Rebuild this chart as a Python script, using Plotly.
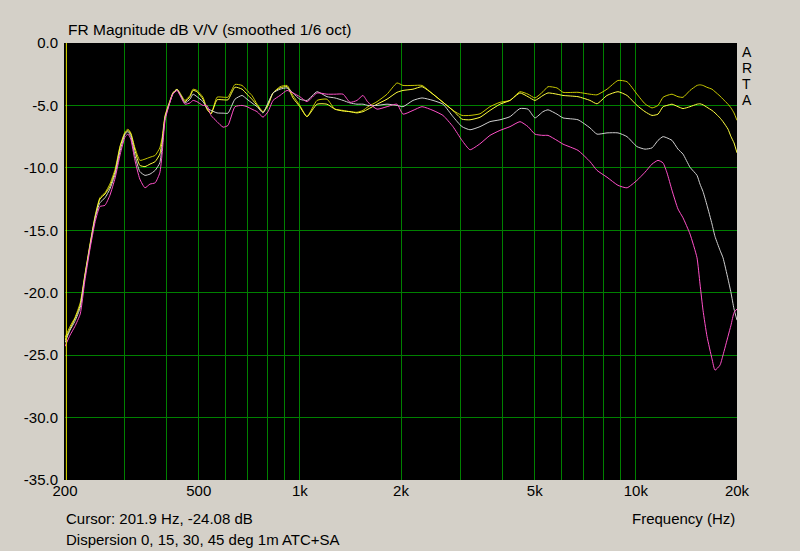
import plotly.graph_objects as go

# Frequency points (Hz)
freq = [200, 207, 214, 222, 229, 237, 246, 254, 263, 272, 282, 292, 302, 308, 314, 323,
        334, 346, 358, 371, 383, 389, 397, 411, 419, 431, 440, 455, 471, 481, 494, 515,
        529, 544, 567, 591, 611, 641, 673, 696, 720, 746, 777, 804, 832, 873, 916, 954,
        1000, 1050, 1125, 1204, 1272, 1345, 1410, 1479, 1541, 1595, 1697, 1817, 1946, 2028,
        2171, 2310, 2491, 2667, 2856, 3038, 3209, 3437, 3680, 3941, 4221, 4521, 4776, 5009,
        5292, 5477, 5825, 6070, 6727, 7303, 7662, 8206, 8848, 9411, 10079, 10647, 11170,
        11639, 12045, 12380, 12811, 13349, 13814, 14493, 15205, 15521, 15844, 16284, 16851,
        17201, 17801, 18170, 18804, 19194, 19593, 20000]

deg0 = [-23.6, -22.7, -22.0, -20.8, -18.6, -16.2, -13.8, -12.4, -12.0, -11.3, -10.1, -8.2, -7.1, -6.9, -7.2, -8.4,
        -9.4, -9.3, -9.15, -9.0, -8.4, -7.6, -5.8, -4.6, -4.0, -3.7, -4.0, -4.6, -4.2, -3.7, -3.8, -4.35,
        -5.27, -5.67, -4.34, -4.34, -4.34, -3.32, -3.4, -3.8, -4.2, -4.9, -5.5, -4.9, -4.0, -3.5, -3.4, -4.2,
        -5.0, -5.9, -4.6, -4.5, -5.3, -5.4, -5.5, -5.55, -5.4, -5.1, -4.7, -4.1, -3.2, -3.4,
        -3.4, -3.4, -4.1, -4.75, -5.4, -5.8, -5.8, -5.67, -5.1, -4.75, -4.6, -3.9, -4.1, -4.4,
        -3.9, -3.5, -3.6, -3.95, -3.95, -4.1, -4.15, -3.7, -3.0, -3.1, -4.1, -4.87, -5.2,
        -5.0, -4.35, -4.2, -4.1, -4.3, -4.35, -3.8, -3.4, -3.35, -3.4, -3.55, -3.7,
        -3.9, -4.25, -4.5, -4.9, -5.2, -5.6, -6.2]

deg15 = [-23.8, -22.9, -22.1, -21.0, -18.7, -16.3, -13.9, -12.5, -12.1, -11.5, -10.3, -8.3, -7.2, -7.0, -7.3, -8.6,
         -9.8, -9.9, -9.7, -9.5, -8.9, -7.9, -5.9, -4.6, -4.0, -3.7, -4.1, -4.7, -4.3, -3.8, -3.9, -4.5,
         -5.3, -5.67, -4.55, -4.55, -4.55, -3.54, -3.7, -4.1, -4.5, -5.0, -5.55, -5.0, -4.0, -3.6, -3.5, -4.4,
         -5.1, -5.9, -4.9, -4.9, -5.3, -5.45, -5.5, -5.6, -5.5, -5.3, -4.9, -4.5, -3.95, -3.8,
         -3.7, -3.5, -4.1, -4.75, -5.4, -6.1, -6.15, -5.95, -5.4, -4.9, -4.6, -4.0, -4.3, -4.6,
         -4.2, -4.0, -4.1, -4.2, -4.3, -4.6, -4.87, -4.2, -3.9, -4.2, -5.0, -5.5, -5.8,
         -5.7, -5.1, -5.0, -4.9, -5.1, -5.25, -5.1, -4.9, -4.87, -4.95, -5.15, -5.4,
         -5.6, -6.0, -6.3, -6.9, -7.5, -8.0, -8.8]

deg30 = [-24.0, -23.0, -22.3, -21.2, -18.8, -16.4, -14.0, -12.8, -12.4, -11.7, -10.5, -8.6, -7.3, -7.1, -7.5, -9.0,
         -10.3, -10.6, -10.5, -10.2, -9.6, -8.3, -6.0, -4.7, -4.05, -3.75, -4.1, -4.8, -4.5, -4.1, -4.3, -4.7,
         -5.2, -5.4, -5.6, -5.62, -5.62, -4.5, -4.2, -4.5, -4.8, -5.1, -5.6, -4.8, -4.0, -3.7, -3.6, -4.0,
         -4.5, -4.6, -3.9, -4.3, -4.4, -4.6, -4.8, -4.9, -4.9, -5.0, -5.0, -4.9, -5.0, -5.1,
         -4.6, -4.4, -4.6, -4.9, -5.9, -6.7, -6.95, -6.7, -6.3, -6.15, -5.9, -5.25, -5.3, -6.0,
         -5.5, -5.35, -5.7, -6.0, -6.15, -6.8, -7.3, -7.2, -7.2, -7.5, -8.3, -8.5, -8.4,
         -7.8, -7.5, -7.6, -7.8, -8.5, -8.9, -9.95, -10.6, -11.3, -11.9, -13.0, -14.5,
         -15.5, -16.6, -17.2, -18.9, -20.0, -21.3, -22.2]

deg45 = [-24.3, -23.4, -22.7, -21.7, -19.1, -16.6, -14.3, -13.1, -13.0, -12.2, -10.8, -8.9, -7.5, -7.3, -7.7, -9.4,
         -10.9, -11.6, -11.3, -11.2, -10.4, -8.9, -6.2, -4.7, -4.1, -3.8, -4.2, -4.9, -4.8, -4.6, -4.7, -5.0,
         -5.0, -5.8, -6.3, -6.74, -6.6, -5.1, -5.0, -5.1, -5.3, -5.5, -5.94, -5.5, -4.6, -4.2, -3.8, -4.0,
         -4.3, -4.7, -4.0, -4.1, -4.1, -4.1, -4.75, -4.6, -4.2, -4.75, -5.3, -5.1, -4.9, -5.7,
         -5.4, -5.1, -5.4, -5.8, -6.7, -7.8, -8.55, -8.07, -7.4, -7.0, -6.7, -6.3, -6.7, -7.3,
         -7.4, -7.4, -7.8, -8.1, -8.6, -9.5, -10.2, -10.75, -11.4, -11.6, -11.0, -10.35, -9.7,
         -9.4, -9.6, -10.4, -11.8, -13.3, -14.0, -15.3, -17.2, -19.3, -21.4, -23.5, -25.3,
         -26.2, -25.8, -25.0, -23.5, -22.6, -21.6, -21.3]

series_names = ["0 deg", "15 deg", "30 deg", "45 deg"]
series_colors = ["#c8c800", "#ffff40", "#d0d0d0", "#ff50c8"]

x_tickvals = [200, 300, 400, 500, 600, 700, 800, 900, 1000, 2000, 3000, 4000, 5000,
              6000, 7000, 8000, 9000, 10000, 20000]
x_ticktext = ["200", "", "", "500", "", "", "", "", "1k", "2k", "", "", "5k",
              "", "", "", "", "10k", "20k"]
y_tickvals = [0, -5, -10, -15, -20, -25, -30, -35]
y_ticktext = ["0.0", "-5.0", "-10.0", "-15.0", "-20.0", "-25.0", "-30.0", "-35.0"]

cursor_freq = 201.9
cursor_db = -24.08

FONT = "Liberation Sans, Arial, sans-serif"

fig = go.Figure()
for name, col, vals in zip(series_names, series_colors, [deg0, deg15, deg30, deg45]):
    fig.add_trace(go.Scatter(x=freq, y=vals, mode="lines", name=name,
                             line=dict(color=col, width=1, shape="spline", smoothing=0.5),
                             showlegend=False, hoverinfo="skip"))

fig.add_shape(type="line", xref="x", yref="paper", x0=cursor_freq, x1=cursor_freq,
              y0=0, y1=1, line=dict(color="#e8e800", width=1))

fig.update_layout(
    width=800, height=551,
    margin=dict(l=65, r=63, t=43, b=71),
    paper_bgcolor="#d4d0c8", plot_bgcolor="#000000",
    font=dict(family=FONT, size=15, color="#000000"),
    xaxis=dict(type="log", range=[2.30103, 4.30103], tickvals=x_tickvals, ticktext=x_ticktext,
               showgrid=True, gridcolor="#008000", gridwidth=1, zeroline=False,
               ticks="", showline=False, tickfont=dict(size=15, color="#000000")),
    yaxis=dict(range=[-35, 0], tickvals=y_tickvals, ticktext=y_ticktext,
               showgrid=True, gridcolor="#008000", gridwidth=1, zeroline=False,
               ticks="", showline=True, linecolor="#000000", linewidth=1,
               tickfont=dict(size=15, color="#000000"), ticklabelstandoff=3),
)

ann = [
    dict(text="FR Magnitude dB V/V (smoothed 1/6 oct)", x=0.0015, y=(480 - 30) / 437,
         xanchor="left", yanchor="middle", font=dict(size=15.5)),
    dict(text="Cursor: %.1f Hz, %.2f dB" % (cursor_freq, cursor_db), x=-0.0015, y=(480 - 518) / 437,
         xanchor="left", yanchor="middle"),
    dict(text="Dispersion 0, 15, 30, 45 deg 1m ATC+SA", x=-0.0015, y=(480 - 539) / 437,
         xanchor="left", yanchor="middle"),
    dict(text="Frequency (Hz)", x=1.0, y=(480 - 518) / 437, xanchor="right", yanchor="middle"),
]
for i, ch in enumerate("ARTA"):
    ann.append(dict(text=ch, x=(746.7 - 65) / 672, y=(480 - (52 + 16 * i)) / 437,
                    xanchor="center", yanchor="middle", font=dict(size=14)))
for a in ann:
    a.update(xref="paper", yref="paper", showarrow=False)
fig.update_layout(annotations=ann)

fig.write_html("out.html", config={"displayModeBar": False},
               post_script="document.body.style.margin='0';document.body.style.overflow='hidden';")
